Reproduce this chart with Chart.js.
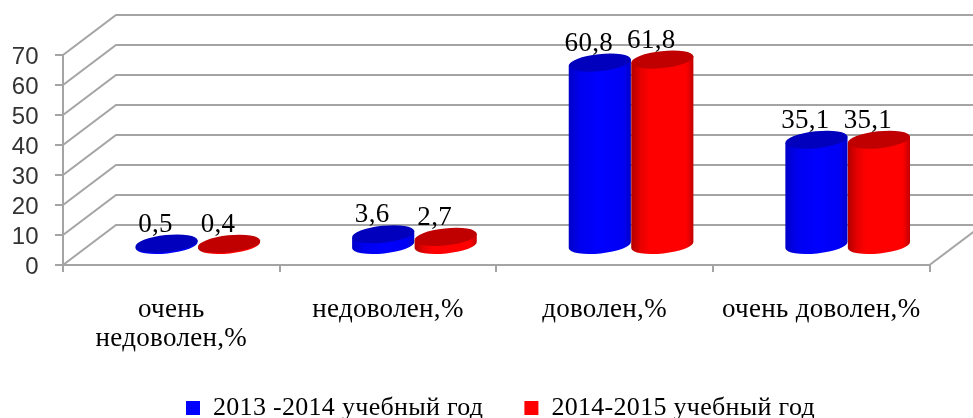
<!DOCTYPE html>
<html>
<head>
<meta charset="utf-8">
<style>
  html, body { margin: 0; padding: 0; background: #fff; overflow: hidden; }
  canvas { display: block; }
</style>
<script src="https://cdn.jsdelivr.net/npm/chart.js@4"></script>
</head>
<body>
<canvas id="chart" width="973" height="418"></canvas>
<script>
const categories = [["очень", "недоволен,%"], "недоволен,%", "доволен,%", "очень доволен,%"];
const seriesNames = ["2013 -2014 учебный год", "2014-2015 учебный год"];
const values2013 = [0.5, 3.6, 60.8, 35.1];
const values2014 = [0.4, 2.7, 61.8, 35.1];
const yTicks = [0, 10, 20, 30, 40, 50, 60, 70];

// глубина псевдо-3D: сдвиг задней стенки
const depthX = 53;
const depthY = 40;
const gridColor = "#a4a4a4";
const serif = "'Liberation Serif', serif";

const bodyStops = [
  [[0, "#0000c8"], [0.2, "#0000f0"], [0.5, "#0000ff"], [0.88, "#0000f4"], [1, "#0000c8"]],
  [[0, "#b00000"], [0.15, "#e60000"], [0.3, "#ff0000"], [0.88, "#ff0000"], [1, "#c00000"]],
];
const topColors = ["#0000bd", "#c00000"];

function setSpacing(ctx) {
  ctx.letterSpacing = "0.3px";
}

function drawWalls(chart) {
  const { ctx, scales } = chart;
  const left = scales.x.left;
  const right = scales.x.right;
  ctx.save();
  ctx.strokeStyle = gridColor;
  ctx.lineWidth = 2;
  yTicks.forEach((v) => {
    const y = scales.y.getPixelForValue(v);
    ctx.beginPath();
    ctx.moveTo(left, y);
    ctx.lineTo(left + depthX, y - depthY);
    ctx.lineTo(right + depthX, y - depthY);
    ctx.stroke();
  });
  // правый край пола
  const y0 = scales.y.getPixelForValue(0);
  ctx.beginPath();
  ctx.moveTo(right, y0);
  ctx.lineTo(right + depthX, y0 - depthY);
  ctx.stroke();
  ctx.restore();
}

function drawCylinder(chart, bar, value, index) {
  const { ctx, scales } = chart;
  const rot = (-6 * Math.PI) / 180;
  const rx = bar.width / 2;
  const ry = 8.5;
  const cx = bar.x + depthX / 2;
  const yTop = scales.y.getPixelForValue(value) - depthY / 2;
  const yBase = scales.y.getPixelForValue(0) - depthY / 2;
  const ex = rx * Math.cos(rot);
  const ey = rx * Math.sin(rot);

  const grad = ctx.createLinearGradient(cx - rx, 0, cx + rx, 0);
  bodyStops[index].forEach((s) => grad.addColorStop(s[0], s[1]));

  ctx.save();
  ctx.fillStyle = grad;
  ctx.beginPath();
  ctx.moveTo(cx - ex, yTop - ey);
  ctx.lineTo(cx - ex, yBase - ey);
  ctx.ellipse(cx, yBase, rx, ry, rot, Math.PI, 0, true);
  ctx.lineTo(cx + ex, yTop + ey);
  ctx.closePath();
  ctx.fill();

  ctx.fillStyle = topColors[index];
  ctx.beginPath();
  ctx.ellipse(cx, yTop, rx, ry, rot, 0, Math.PI * 2);
  ctx.fill();
  ctx.restore();
}

const cylinders = {
  id: "cylinders",
  beforeLayout(chart) {
    setSpacing(chart.ctx);
  },
  afterLayout(chart) {
    // легенда в оригинале смещена вправо от центра
    const lg = chart.legend;
    lg.left = 28;
    lg.right = 973;
    lg.top = 354;
    lg.bottom = 418;
    // подписи оси обрезаются по низу шкалы, поэтому расширяем её
    chart.scales.x.bottom = 400;
  },
  beforeDraw(chart) {
    setSpacing(chart.ctx);
  },
  beforeDatasetsDraw(chart) {
    const { ctx, scales } = chart;
    drawWalls(chart);
    categories.forEach((c, i) => {
      chart.data.datasets.forEach((ds, d) => {
        drawCylinder(chart, chart.getDatasetMeta(d).data[i], ds.data[i], d);
      });
    });
    // подписи значений
    ctx.save();
    ctx.font = "27px " + serif;
    ctx.fillStyle = "#000";
    ctx.textAlign = "center";
    ctx.textBaseline = "middle";
    chart.data.datasets.forEach((ds, d) => {
      chart.getDatasetMeta(d).data.forEach((bar, i) => {
        const y = scales.y.getPixelForValue(ds.data[i]) - depthY / 2 - 19;
        ctx.fillText(String(ds.data[i]).replace(".", ","), bar.x + depthX / 2 - 11, y);
      });
    });
    ctx.restore();
    return false;
  },
};

new Chart(document.getElementById("chart"), {
  type: "bar",
  plugins: [cylinders],
  data: {
    labels: categories,
    datasets: [
      { label: seriesNames[0], data: values2013, backgroundColor: "#0000ff" },
      { label: seriesNames[1], data: values2014, backgroundColor: "#ff0000" },
    ],
  },
  options: {
    responsive: false,
    animation: false,
    events: [],
    layout: { padding: { left: 0, right: 43.5, top: 55, bottom: 0 } },
    categoryPercentage: 0.577,
    barPercentage: 1,
    plugins: {
      tooltip: { enabled: false },
      legend: {
        position: "bottom",
        labels: {
          boxWidth: 14,
          boxHeight: 14,
          padding: 41,
          color: "#000",
          font: { family: serif, size: 26 },
        },
      },
    },
    scales: {
      x: {
        afterFit(scale) {
          scale.height = 76;
        },
        border: { color: gridColor, width: 2 },
        grid: { drawOnChartArea: false, color: gridColor, lineWidth: 2, tickLength: 7 },
        ticks: {
          color: "#000",
          padding: 23,
          maxRotation: 0,
          autoSkip: false,
          font: { family: serif, size: 27, lineHeight: 1.09 },
        },
      },
      y: {
        min: 0,
        max: 70,
        afterFit(scale) {
          scale.width = 63;
        },
        border: { color: gridColor, width: 2 },
        grid: { drawOnChartArea: false, color: gridColor, lineWidth: 2, tickLength: 8 },
        ticks: {
          stepSize: 10,
          autoSkip: false,
          color: "#333",
          padding: 16,
          labelOffset: 2,
          font: { family: "'Liberation Sans', sans-serif", size: 24 },
        },
      },
    },
  },
});
</script>
</body>
</html>
